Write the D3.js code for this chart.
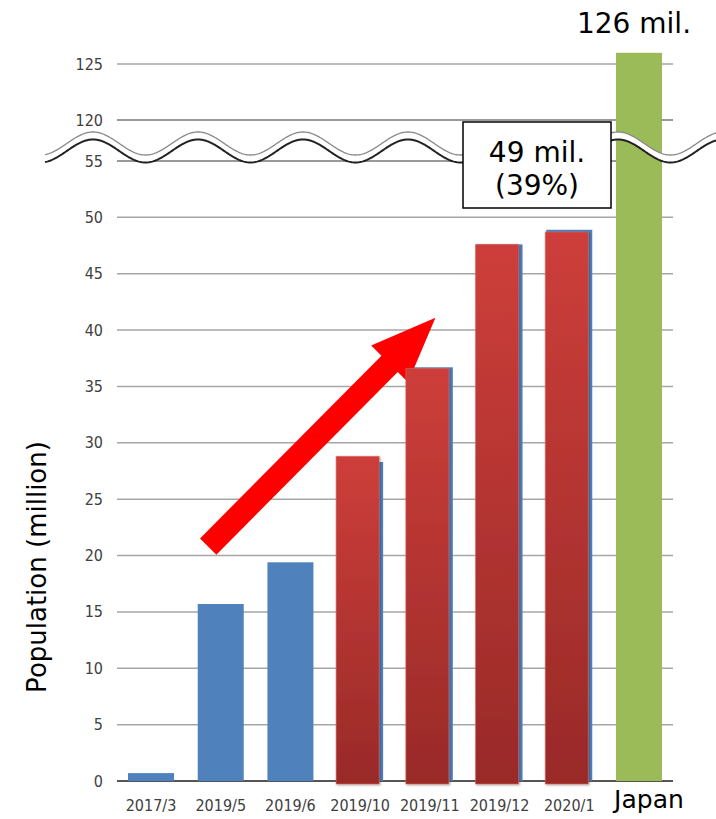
<!DOCTYPE html>
<html>
<head>
<meta charset="utf-8">
<script src="https://cdn.jsdelivr.net/npm/d3@7"></script>
<style>
  html, body { margin: 0; padding: 0; background: #fff; }
  svg { display: block; }
</style>
</head>
<body>
<svg id="chart" width="716" height="819"></svg>
<script>
// ---- data ----
const categories = ["2017/3", "2019/5", "2019/6", "2019/10", "2019/11", "2019/12", "2020/1", "Japan"];
const blueValues = [0.7, 15.7, 19.4, 28.3, 36.7, 47.6, 48.9, null];
const redCategories = ["2019/10", "2019/11", "2019/12", "2020/1"];
const redValues = [28.8, 36.6, 47.6, 48.7];
const japanValue = 126;
const lowerTicks = [0, 5, 10, 15, 20, 25, 30, 35, 40, 45, 50, 55];
const upperTicks = [120, 125];
const yTitle = "Population (million)";
const japanLabel = "126 mil.";
const boxLines = ["49 mil.", "(39%)"];
// arrow annotation, in (category index, value) space
const arrowFrom = [0.82, 20.8];
const arrowTo = [4.08, 41.1];

// ---- layout ----
const svg = d3.select("#chart");
const left = 117, right = 673;

const x = d3.scaleBand().domain(categories).range([left, right])
  .paddingInner(0.34).paddingOuter(0.158);
const yLow = d3.scaleLinear().domain([0, 55]).range([781, 161]);
const yHigh = d3.scaleLinear().domain([120, 125]).range([120, 64]);
const y = v => v <= 55 ? yLow(v) : yHigh(v);
const xi = d3.scaleLinear().domain([0, 1])
  .range([x(categories[0]) + x.bandwidth() / 2, x(categories[1]) + x.bandwidth() / 2]);

const defs = svg.append("defs");
const grad = defs.append("linearGradient").attr("id", "redGrad")
  .attr("x1", 0).attr("y1", 0).attr("x2", 0).attr("y2", 1);
grad.append("stop").attr("offset", "0%").attr("stop-color", "#cd3e3a");
grad.append("stop").attr("offset", "100%").attr("stop-color", "#992a28");
const f = defs.append("filter").attr("id", "shadow")
  .attr("x", "-20%").attr("y", "-5%").attr("width", "140%").attr("height", "110%");
f.append("feDropShadow").attr("dx", 1).attr("dy", 1).attr("stdDeviation", 1.2)
  .attr("flood-color", "#000").attr("flood-opacity", 0.35);

// gridlines
const allTicks = lowerTicks.concat(upperTicks);
svg.append("g").selectAll("line").data(allTicks).join("line")
  .attr("x1", left).attr("x2", right)
  .attr("y1", d => y(d)).attr("y2", d => y(d))
  .attr("stroke", d => d === 0 ? "#555" : (d === 120 || d === 55 ? "#777" : "#a6a6a6"))
  .attr("stroke-width", d => d === 0 ? 2 : 1.5);

// tick labels
svg.append("g").selectAll("text").data(allTicks).join("text")
  .attr("x", 103).attr("y", d => y(d))
  .attr("text-anchor", "end").attr("dominant-baseline", "central")
  .attr("font-family", "DejaVu Sans Condensed, DejaVu Sans")
  .attr("font-stretch", "condensed")
  .attr("font-size", 16).attr("fill", "#404040")
  .text(d => d);

// blue bars
svg.append("g").selectAll("rect")
  .data(categories.map((c, i) => ({ c, v: blueValues[i] })).filter(d => d.v != null))
  .join("rect")
  .attr("x", d => x(d.c)).attr("width", x.bandwidth())
  .attr("y", d => y(d.v)).attr("height", d => y(0) - y(d.v))
  .attr("fill", "#4f81bd");

// Japan bar
svg.append("rect")
  .attr("x", x("Japan")).attr("width", x.bandwidth())
  .attr("y", y(japanValue)).attr("height", y(0) - y(japanValue))
  .attr("fill", "#9bbb59");

// arrow
(function () {
  const tx = xi(arrowTo[0]), ty = y(arrowTo[1]);
  const sx = xi(arrowFrom[0]), sy = y(arrowFrom[1]);
  const dx = tx - sx, dy = ty - sy, L = Math.hypot(dx, dy);
  const ux = dx / L, uy = dy / L, nx = -uy, ny = ux;
  const hw = 11.5, headLen = 65, headHw = 26;
  const bx = tx - ux * headLen, by = ty - uy * headLen;
  const pts = [
    [sx + nx * hw, sy + ny * hw],
    [bx + nx * hw, by + ny * hw],
    [bx + nx * headHw, by + ny * headHw],
    [tx, ty],
    [bx - nx * headHw, by - ny * headHw],
    [bx - nx * hw, by - ny * hw],
    [sx - nx * hw, sy - ny * hw]
  ];
  svg.append("path").attr("d", d3.line()(pts) + "Z").attr("fill", "#ff0000");
})();

// red bars
svg.append("g").selectAll("rect")
  .data(redCategories.map((c, i) => ({ c, v: redValues[i] })))
  .join("rect")
  .attr("x", d => x(d.c) - 1).attr("width", x.bandwidth() - 3)
  .attr("y", d => y(d.v)).attr("height", d => y(0) + 3 - y(d.v))
  .attr("fill", "url(#redGrad)")
  .attr("stroke", "#d9645f").attr("stroke-opacity", 0.6).attr("stroke-width", 1)
  .attr("filter", "url(#shadow)");

// axis break (decorative wave)
(function () {
  const x0 = 45, x1 = 716, peak = 93, period = 105, amp = 11.5;
  const xs = d3.range(x0, x1 + 1, 1);
  const top = xs.map(px => [px, 143.5 - amp * Math.cos(2 * Math.PI * (px - peak) / period)]);
  const bot = xs.map(px => [px, 151 - amp * Math.cos(2 * Math.PI * (px - peak) / period)]);
  const area = top.concat(bot.slice().reverse());
  svg.append("path").attr("d", d3.line()(area) + "Z").attr("fill", "#fff");
  svg.append("path").attr("d", d3.line()(top)).attr("fill", "none")
    .attr("stroke", "#8a8a8a").attr("stroke-width", 1.3);
  svg.append("path").attr("d", d3.line()(bot)).attr("fill", "none")
    .attr("stroke", "#222").attr("stroke-width", 2);
})();

// annotation box
svg.append("rect").attr("x", 463).attr("y", 122).attr("width", 148).attr("height", 86)
  .attr("fill", "#fff").attr("stroke", "#000").attr("stroke-width", 1.5);
svg.append("g").selectAll("text").data(boxLines).join("text")
  .attr("x", 537).attr("y", (d, i) => 162 + i * 33)
  .attr("text-anchor", "middle")
  .attr("font-family", "DejaVu Sans").attr("font-size", 28).attr("fill", "#000")
  .text(d => d);

// Japan value label
svg.append("text").attr("x", 634).attr("y", 33).attr("text-anchor", "middle")
  .attr("font-family", "DejaVu Sans").attr("font-size", 28).attr("fill", "#000")
  .text(japanLabel);

// x labels
svg.append("g").selectAll("text").data(categories).join("text")
  .attr("x", d => x(d) + x.bandwidth() / 2 + (d === "Japan" ? 10 : 0))
  .attr("y", d => d === "Japan" ? 808 : 811)
  .attr("text-anchor", "middle")
  .attr("font-family", d => d === "Japan" ? "DejaVu Sans" : "DejaVu Sans Condensed, DejaVu Sans")
  .attr("font-stretch", d => d === "Japan" ? "normal" : "condensed")
  .attr("font-size", d => d === "Japan" ? 25 : 16)
  .attr("fill", d => d === "Japan" ? "#000" : "#404040")
  .text(d => d);

// y title
svg.append("text")
  .attr("transform", "translate(46,567) rotate(-90)")
  .attr("text-anchor", "middle")
  .attr("font-family", "DejaVu Sans").attr("font-size", 26).attr("fill", "#000")
  .text(yTitle);
</script>
</body>
</html>
